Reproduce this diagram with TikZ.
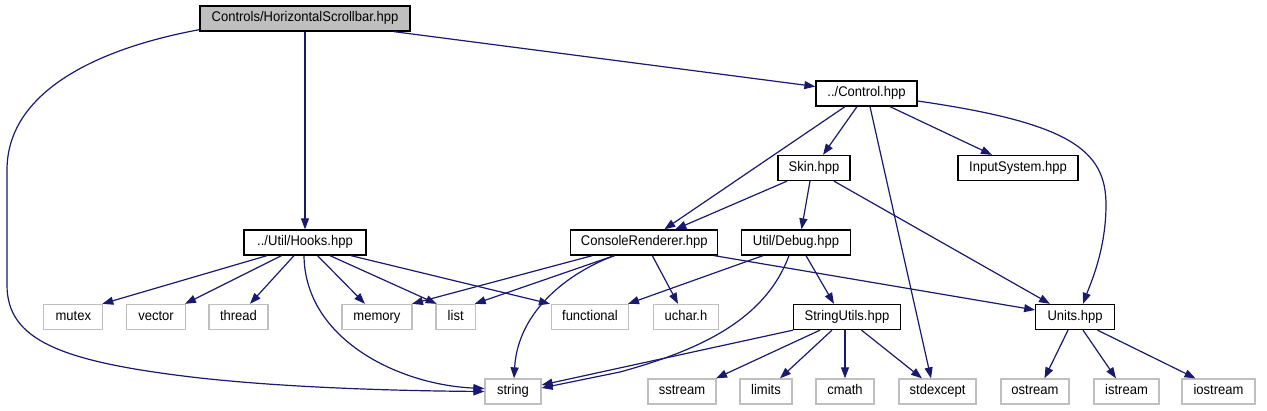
\documentclass[tikz,border=0pt]{standalone}
\usepackage{fontspec}
\setmainfont[FakeStretch=0.93]{Liberation Sans}
\usetikzlibrary{arrows.meta}
\definecolor{edgeblue}{HTML}{191970}
\definecolor{greybox}{HTML}{BFBFBF}
\begin{document}
\begin{tikzpicture}[x=1pt,y=-1pt,
  base/.style={rectangle, inner sep=0pt, minimum height=25pt, text height=10pt, text depth=3pt, font=\fontsize{14pt}{16pt}\selectfont, line width=1.3pt},
  mainbox/.style={base, draw=black, fill=greybox},
  hdrbox/.style={base, draw=black, fill=white},
  sysbox/.style={base, draw=greybox, fill=white},
  dep/.style={draw=edgeblue, line width=1.2pt, -{Triangle[length=11pt,width=8pt]}}
]
\useasboundingbox (0,0) rectangle (1267,411);
% nodes
\node[mainbox, minimum width=210pt] (root) at (305,18.5) {Controls/HorizontalScrollbar.hpp};
\node[hdrbox, minimum width=101pt] (control) at (866.5,93.5) {../Control.hpp};
\node[hdrbox, minimum width=72pt] (skin) at (814,168) {Skin.hpp};
\node[hdrbox, minimum width=120pt] (input) at (1018,168) {InputSystem.hpp};
\node[hdrbox, minimum width=122pt] (hooks) at (305,242.5) {../Util/Hooks.hpp};
\node[hdrbox, minimum width=147pt] (cr) at (644.3,242.5) {ConsoleRenderer.hpp};
\node[hdrbox, minimum width=109pt] (debug) at (796,242.5) {Util/Debug.hpp};
\node[sysbox, minimum width=59pt] (mutex) at (73.3,317) {mutex};
\node[sysbox, minimum width=59pt] (vector) at (156,317) {vector};
\node[sysbox, minimum width=59pt] (thread) at (238.5,317) {thread};
\node[sysbox, minimum width=70pt] (memory) at (377,317) {memory};
\node[sysbox, minimum width=39.5pt] (list) at (455.7,317) {list};
\node[sysbox, minimum width=77.6pt] (functional) at (590,317) {functional};
\node[sysbox, minimum width=64.5pt] (uchar) at (686,317) {uchar.h};
\node[hdrbox, minimum width=106.5pt] (stringutils) at (847,317) {StringUtils.hpp};
\node[hdrbox, minimum width=78.5pt] (units) at (1075,317) {Units.hpp};
\node[sysbox, minimum width=56pt] (string) at (513,391.5) {string};
\node[sysbox, minimum width=68pt] (sstream) at (682,391.5) {sstream};
\node[sysbox, minimum width=52pt] (limits) at (766,391.5) {limits};
\node[sysbox, minimum width=58pt] (cmath) at (845,391.5) {cmath};
\node[sysbox, minimum width=77pt] (stdexcept) at (937.5,391.5) {stdexcept};
\node[sysbox, minimum width=68pt] (ostream) at (1035,391.5) {ostream};
\node[sysbox, minimum width=65pt] (istream) at (1126.5,391.5) {istream};
\node[sysbox, minimum width=73pt] (iostream) at (1218.5,391.5) {iostream};
% edges from root
\draw[dep] ([yshift=2pt]root.south west) .. controls (90,50) and (7,95) .. (7,170) -- (7,285)
  .. controls (7,340) and (60,362) .. (200,378) .. controls (300,389) and (420,391) .. (string.west);
\draw[dep] (root.south) -- (hooks.north);
\draw[dep] ([xshift=89pt]root.south) -- ([yshift=7pt]control.west);
% edges from control
\draw[dep] ([xshift=-21.5pt]control.south) -- ([xshift=20pt]cr.north);
\draw[dep] ([xshift=-9.5pt]control.south) -- ([xshift=9pt]skin.north);
\draw[dep] ([xshift=3.5pt]control.south) -- ([xshift=-6.5pt]stdexcept.north);
\draw[dep] ([xshift=23.5pt]control.south) -- ([xshift=-26pt]input.north);
\draw[dep] ([yshift=-7.5pt]control.east) .. controls (1070,123) and (1106,150) .. (1106,205)
  .. controls (1106,250) and (1090,285) .. ([xshift=8pt]units.north);
% edges from skin
\draw[dep] ([xshift=-27pt]skin.south) -- ([xshift=31pt]cr.north);
\draw[dep] ([xshift=-4pt]skin.south) -- ([xshift=5.5pt]debug.north);
\draw[dep] ([xshift=20pt]skin.south) -- ([xshift=-25pt]units.north);
% edges from hooks
\draw[dep] ([xshift=-38pt]hooks.south) -- ([xshift=29pt]mutex.north);
\draw[dep] ([xshift=-23.5pt]hooks.south) -- ([xshift=29pt]vector.north);
\draw[dep] ([xshift=-11pt]hooks.south) -- ([xshift=11.5pt]thread.north);
\draw[dep] ([xshift=-1pt]hooks.south) .. controls (305,340) and (400,385) .. ([yshift=3pt]string.west);
\draw[dep] ([xshift=12.5pt]hooks.south) -- ([xshift=-12pt]memory.north);
\draw[dep] ([xshift=25pt]hooks.south) -- ([xshift=-19pt]list.north);
\draw[dep] ([xshift=46pt]hooks.south) -- ([xshift=-40pt]functional.north);
% edges from console renderer
\draw[dep] ([xshift=-52pt]cr.south) -- ([xshift=35pt]memory.north);
\draw[dep] ([xshift=-30pt]cr.south) -- ([xshift=19pt]list.north);
\draw[dep] ([xshift=-30pt]cr.south) .. controls (570,272) and (518,310) .. ([xshift=1pt]string.north);
\draw[dep] ([xshift=8pt]cr.south) -- ([xshift=-8pt]uchar.north);
\draw[dep] ([xshift=70pt]cr.south) -- ([yshift=7pt]units.west);
% edges from debug
\draw[dep] ([xshift=-33pt]debug.south) -- ([xshift=38pt]functional.north);
\draw[dep] ([xshift=-7pt]debug.south) .. controls (765,320) and (700,350) .. (620,372) -- ([yshift=3.5pt]string.east);
\draw[dep] ([xshift=10pt]debug.south) -- ([xshift=-13pt]stringutils.north);
% edges from stringutils
\draw[dep] (stringutils.south west) -- ([yshift=6.5pt]string.east);
\draw[dep] ([xshift=-27pt]stringutils.south) -- ([xshift=34pt]sstream.north);
\draw[dep] ([xshift=-15pt]stringutils.south) -- ([xshift=14pt]limits.north);
\draw[dep] ([xshift=-2pt]stringutils.south) -- (cmath.north);
\draw[dep] ([xshift=14.5pt]stringutils.south) -- ([xshift=-15.5pt]stdexcept.north);
% edges from units
\draw[dep] ([xshift=-7pt]units.south) -- ([xshift=9.5pt]ostream.north);
\draw[dep] ([xshift=8pt]units.south) -- ([xshift=-10.5pt]istream.north);
\draw[dep] ([xshift=22.5pt]units.south) -- ([xshift=-23pt]iostream.north);
\end{tikzpicture}
\end{document}
